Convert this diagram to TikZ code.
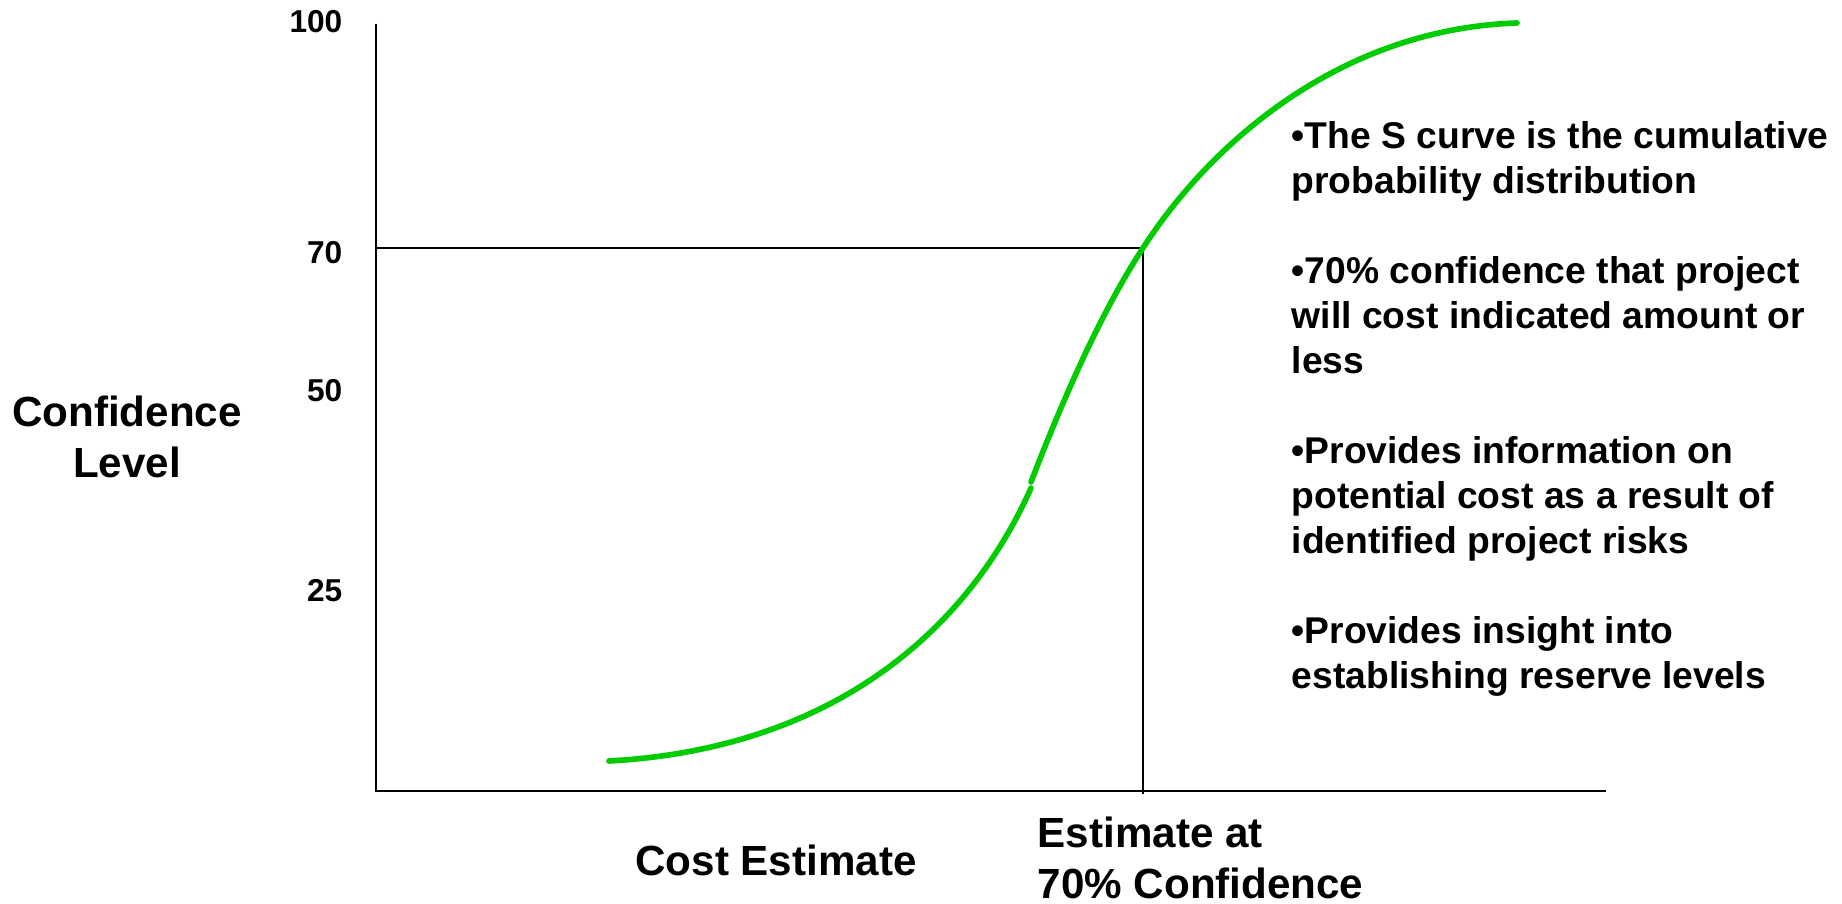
\documentclass[tikz,border=0pt]{standalone}
\usepackage{fontspec}
\setmainfont{Liberation Sans}
\usetikzlibrary{arrows,positioning}
\definecolor{scurve}{RGB}{0,204,0}

\begin{document}
\begin{tikzpicture}[font=\bfseries, axisline/.style={draw=black, line width=0.8pt}, guide/.style={draw=black, line width=0.5pt}, curvestyle/.style={draw=scurve, line width=1.6pt, line cap=round}, ticklabel/.style={anchor=base east, inner sep=0pt, font=\fontsize{9}{10}\selectfont\bfseries}, axlabel/.style={inner sep=0pt, font=\fontsize{12}{14.5}\selectfont\bfseries}, notes/.style={anchor=base west, inner sep=0pt, align=left, font=\fontsize{10.6}{12.8}\selectfont\bfseries}]
	 \useasboundingbox (0,0) rectangle (18.42,9.03);
	 \coordinate (origin) at (3.76,1.12);
	 \coordinate (ytop) at (3.76,8.79);
	 \coordinate (xend) at (16.06,1.12);
	 \coordinate (p70) at (3.76,6.55);
	 \coordinate (est) at (11.43,6.55);
	 \coordinate (estbase) at (11.43,1.09);
	 \coordinate (low) at (6.09,1.42);
	 \coordinate (kinka) at (10.31,4.15);
	 \coordinate (kinkb) at (10.31,4.21);
	 \coordinate (high) at (15.17,8.80);
	 \node[ticklabel] (t100) at (3.43,8.70) {100};
	 \node[ticklabel] (t70) at (3.43,6.40) {70};
	 \node[ticklabel] (t50) at (3.43,5.02) {50};
	 \node[ticklabel] (t25) at (3.43,3.02) {25};
	 \node[axlabel, align=center, anchor=base] (ylab) at (1.27,4.26) {Confidence\\Level};
	 \node[axlabel, anchor=base] (xlab) at (7.76,0.28) {Cost Estimate};
	 \node[axlabel, align=left, anchor=base west] (estlab) at (10.37,0.05) {Estimate at\\70\% Confidence};
	 \node[notes] (bullets) at (12.91,2.15) {•The S curve is the cumulative\\probability distribution\\[12.8pt]•70\% confidence that project\\will cost indicated amount or\\less\\[12.8pt]•Provides information on\\potential cost as a result of\\identified project risks\\[12.8pt]•Provides insight into\\establishing reserve levels};
	 \draw[axisline] (ytop) -- (origin) -- (xend);
	 \draw[guide] (p70) -- (est);
	 \draw[axisline, line width=0.7pt] (est) -- (estbase);
	 \draw[curvestyle] (low) .. controls (8.29,1.54) and (9.66,2.69) .. (kinka);
	 \draw[curvestyle] (kinkb) .. controls (10.60,4.96) and (10.99,5.88) .. (est) .. controls (12.08,7.56) and (13.37,8.74) .. (high);
	\end{tikzpicture}
\end{document}
